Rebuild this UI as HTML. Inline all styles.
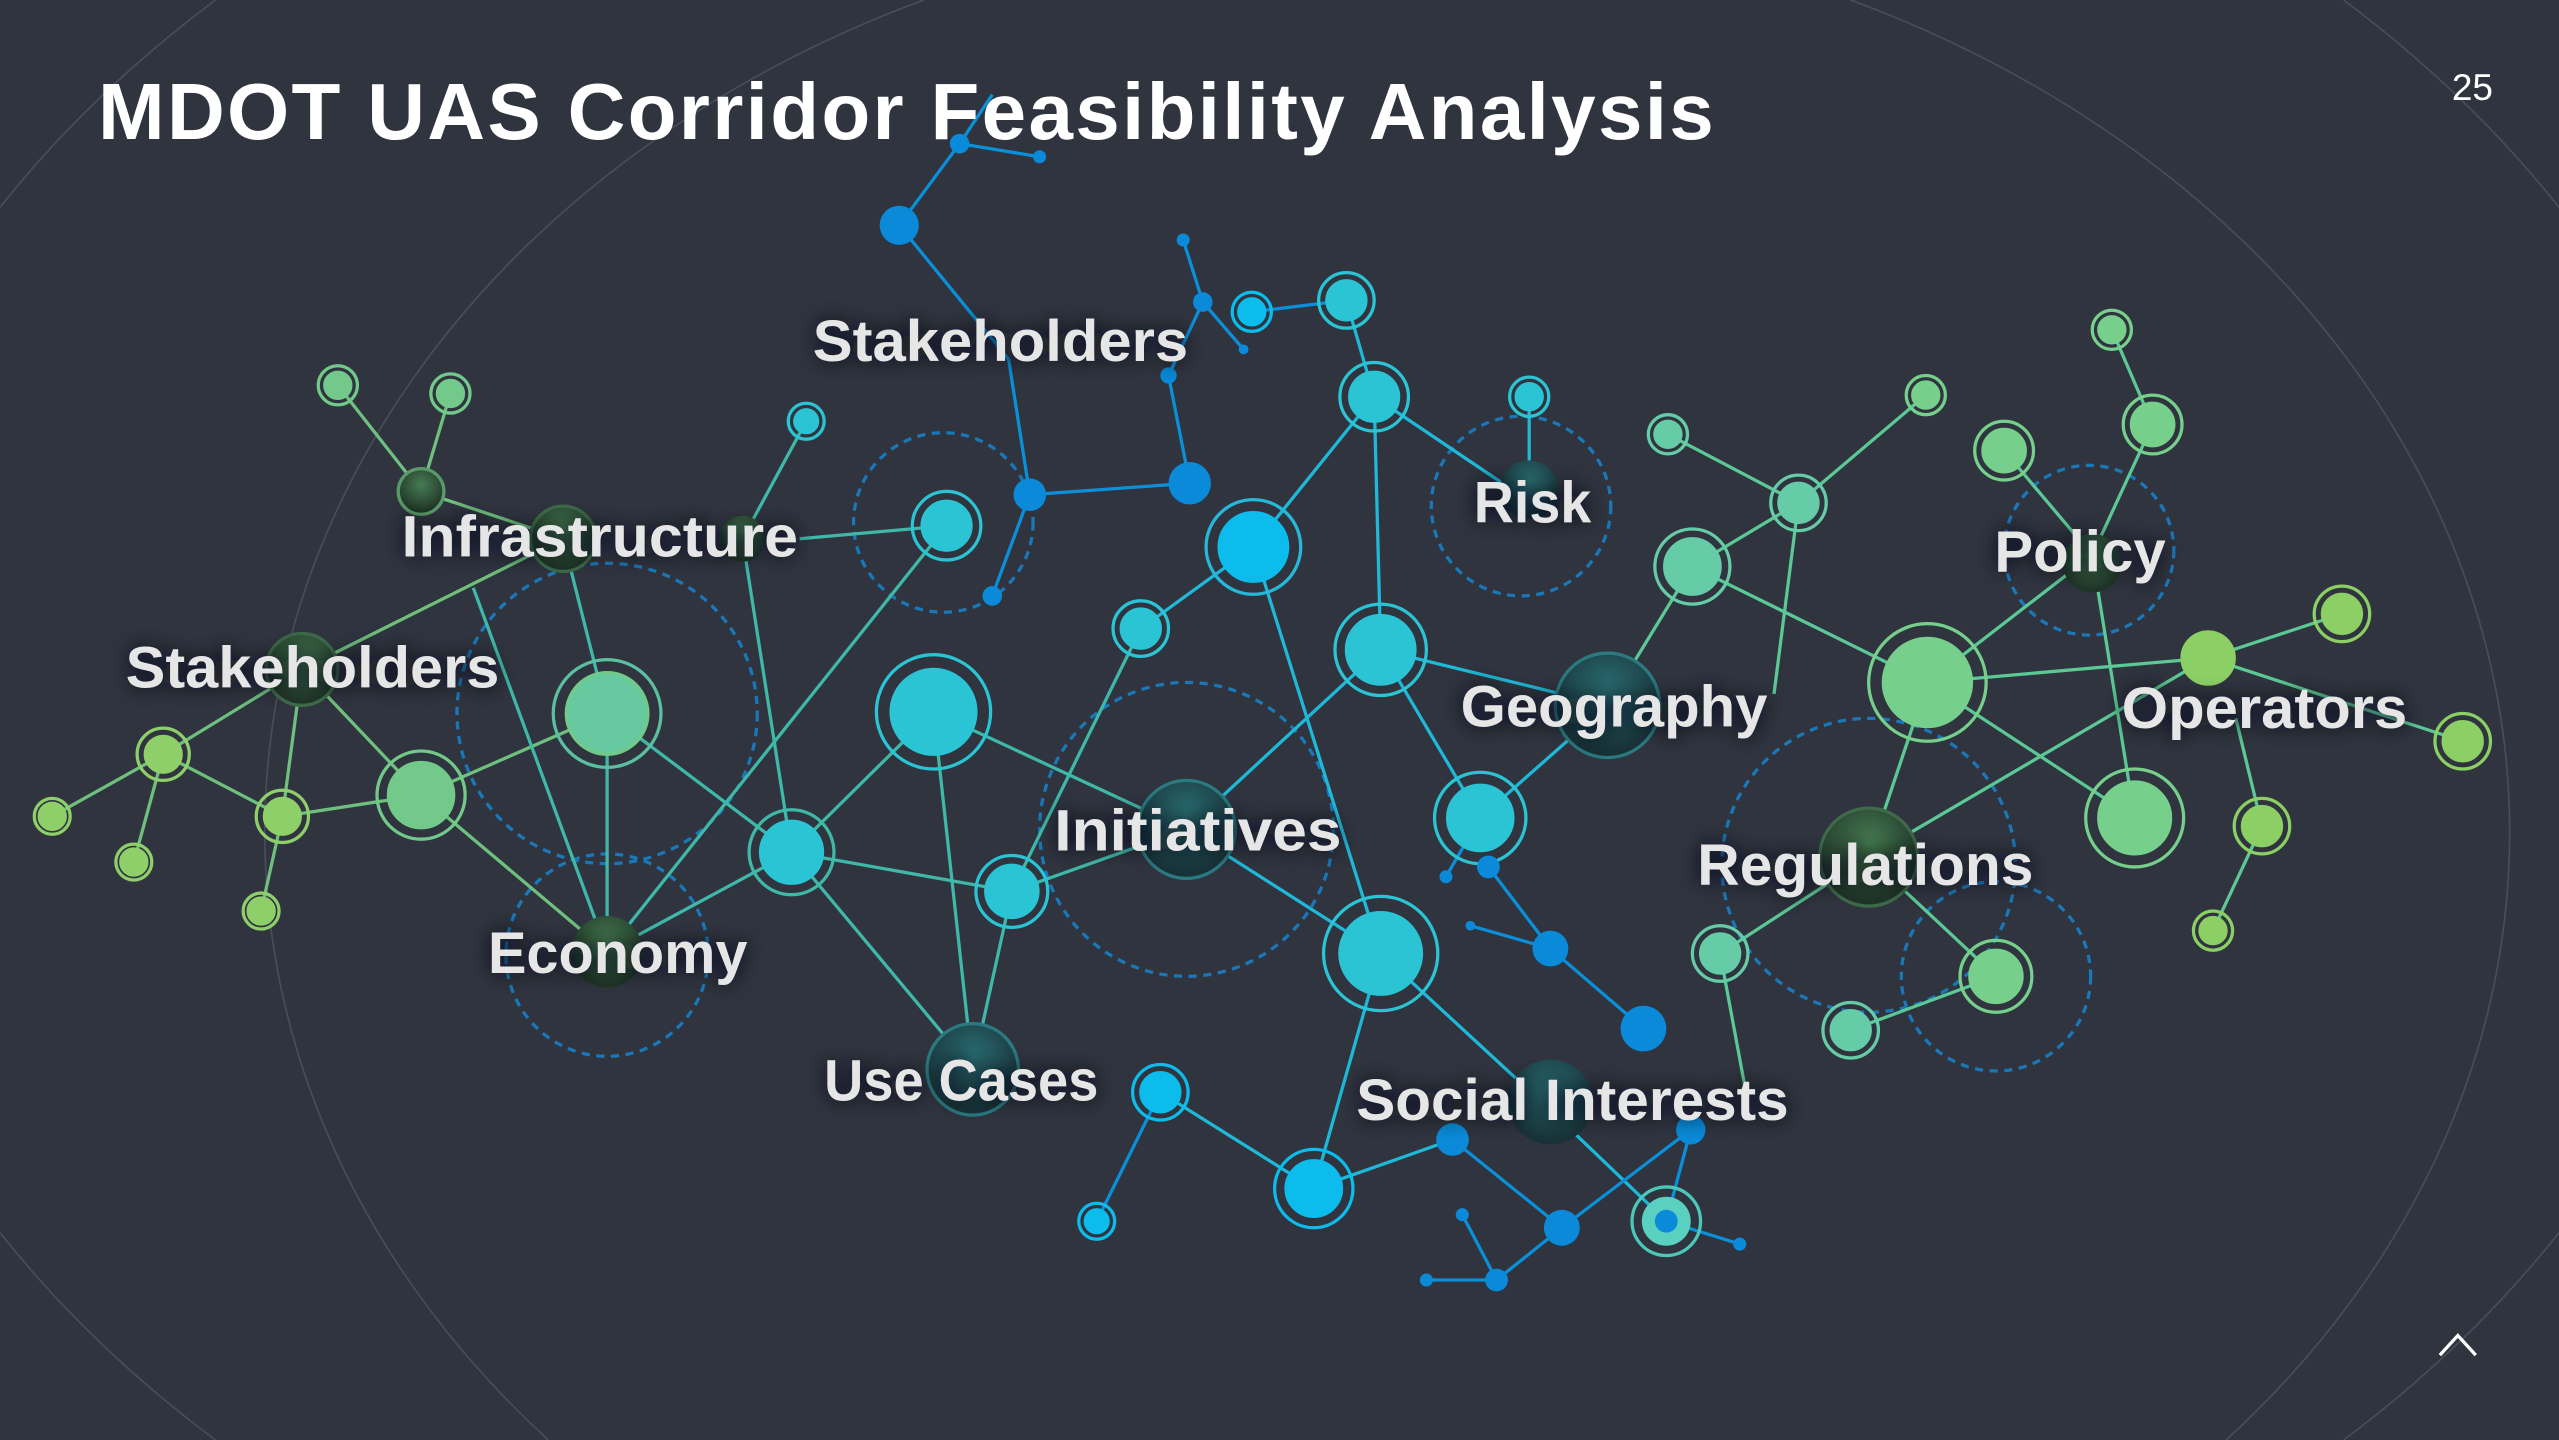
<!DOCTYPE html>
<html><head><meta charset="utf-8"><style>
html,body{margin:0;padding:0;background:#2f343f;width:2559px;height:1440px;overflow:hidden}
#wrap{position:relative;width:2559px;height:1440px;overflow:hidden;background:#2f343f}
svg{display:block;position:absolute;left:0;top:0}
.lb{font-family:"Liberation Sans","DejaVu Sans",sans-serif;font-weight:bold;font-size:36px;fill:#e6e6e6}
h1{position:absolute;left:98px;top:62px;margin:0;font-family:"Liberation Sans",sans-serif;font-weight:bold;font-size:80px;line-height:100px;color:#fff;white-space:nowrap;letter-spacing:2.3px}
.pg{position:absolute;right:66px;top:67px;font-family:"Liberation Sans",sans-serif;font-size:37px;color:#fff}
</style></head><body>
<div id="wrap">
<svg width="2559" height="1440" viewBox="0 0 1568 882" preserveAspectRatio="none" xmlns="http://www.w3.org/2000/svg">
<defs>
<filter id="sh" x="-20%" y="-40%" width="140%" height="180%"><feGaussianBlur stdDeviation="6"/></filter>
<radialGradient id="hub" cx="50%" cy="35%" r="60%"><stop offset="0" stop-color="#2a6e74"/><stop offset="1" stop-color="#183238"/></radialGradient>
<radialGradient id="hubg" cx="50%" cy="35%" r="60%"><stop offset="0" stop-color="#467c52"/><stop offset="1" stop-color="#203428"/></radialGradient>
</defs>
<g fill="none" stroke="#5a606b" stroke-width="1" opacity="0.6">
<path d="M566,0 A688,560 0 0,0 336,882"/>
<path d="M1134,0 A688,560 0 0,1 1364,882"/>
<path d="M132,0 A900,640 0 0,0 0,127"/>
<path d="M0,755 A900,640 0 0,0 132,882"/>
<path d="M1436,0 A900,640 0 0,1 1568,127"/>
<path d="M1568,755 A900,640 0 0,1 1436,882"/>
</g>
<g fill="none" stroke="#1a78b8" stroke-width="2" stroke-dasharray="5,4">
<circle cx="578" cy="320" r="55"/><circle cx="372" cy="437" r="92"/><circle cx="372" cy="585" r="62"/>
<circle cx="727" cy="508" r="90"/><circle cx="932" cy="310" r="55"/><circle cx="1280" cy="337" r="52"/>
<circle cx="1145" cy="530" r="90"/><circle cx="1223" cy="598" r="58"/>
</g>
<g stroke-width="2" fill="none">
<g stroke="#6fbf7e">
<line x1="207" y1="236" x2="258" y2="301"/><line x1="276" y1="241" x2="258" y2="301"/>
<line x1="258" y1="301" x2="345" y2="330"/><line x1="345" y1="330" x2="185" y2="410"/>
<line x1="185" y1="410" x2="100" y2="462"/><line x1="185" y1="410" x2="173" y2="500"/>
<line x1="185" y1="410" x2="258" y2="487"/><line x1="100" y1="462" x2="32" y2="500"/>
<line x1="100" y1="462" x2="82" y2="528"/><line x1="100" y1="462" x2="173" y2="500"/>
<line x1="173" y1="500" x2="160" y2="558"/><line x1="173" y1="500" x2="258" y2="487"/>
<line x1="258" y1="487" x2="372" y2="437"/><line x1="258" y1="487" x2="372" y2="583"/>
</g>
<g stroke="#3fb8a8">
<line x1="345" y1="330" x2="372" y2="437"/><line x1="290" y1="360" x2="372" y2="583"/>
<line x1="372" y1="437" x2="372" y2="583"/><line x1="372" y1="437" x2="485" y2="522"/>
<line x1="455" y1="330" x2="485" y2="522"/><line x1="455" y1="330" x2="494" y2="258"/>
<line x1="490" y1="330" x2="580" y2="322"/><line x1="580" y1="322" x2="372" y2="583"/>
<line x1="485" y1="522" x2="372" y2="583"/><line x1="485" y1="522" x2="572" y2="436"/>
<line x1="485" y1="522" x2="620" y2="546"/><line x1="485" y1="522" x2="596" y2="655"/>
<line x1="572" y1="436" x2="596" y2="655"/><line x1="572" y1="436" x2="727" y2="508"/>
<line x1="620" y1="546" x2="596" y2="655"/><line x1="620" y1="546" x2="727" y2="508"/>
<line x1="620" y1="546" x2="699" y2="385"/>
</g>
<g stroke="#20b8d8">
<line x1="699" y1="385" x2="768" y2="335"/><line x1="768" y1="335" x2="842" y2="243"/>
<line x1="768" y1="335" x2="846" y2="584"/><line x1="842" y1="243" x2="846" y2="398"/>
<line x1="842" y1="243" x2="825" y2="184"/><line x1="842" y1="243" x2="937" y2="307"/>
<line x1="846" y1="398" x2="727" y2="508"/><line x1="846" y1="398" x2="907" y2="501"/>
<line x1="846" y1="398" x2="985" y2="432"/><line x1="727" y1="508" x2="846" y2="584"/>
<line x1="907" y1="501" x2="985" y2="432"/><line x1="846" y1="584" x2="805" y2="728"/>
<line x1="846" y1="584" x2="950" y2="680"/><line x1="711" y1="669" x2="805" y2="728"/>
<line x1="805" y1="728" x2="890" y2="698"/><line x1="950" y1="680" x2="1021" y2="748"/>
<line x1="937" y1="243" x2="937" y2="290"/>
</g>
<g stroke="#0b8fd8">
<line x1="608" y1="58" x2="588" y2="88"/><line x1="588" y1="88" x2="637" y2="96"/>
<line x1="588" y1="88" x2="551" y2="138"/><line x1="551" y1="138" x2="618" y2="220"/>
<line x1="618" y1="220" x2="631" y2="303"/><line x1="631" y1="303" x2="608" y2="365"/>
<line x1="631" y1="303" x2="729" y2="296"/><line x1="729" y1="296" x2="716" y2="230"/>
<line x1="725" y1="147" x2="737" y2="185"/><line x1="737" y1="185" x2="762" y2="214"/>
<line x1="737" y1="185" x2="716" y2="230"/><line x1="767" y1="191" x2="825" y2="184"/>
<line x1="711" y1="669" x2="672" y2="748"/><line x1="907" y1="501" x2="886" y2="537"/>
<line x1="912" y1="531" x2="950" y2="581"/><line x1="901" y1="567" x2="950" y2="581"/>
<line x1="950" y1="581" x2="1007" y2="630"/><line x1="890" y1="698" x2="957" y2="752"/>
<line x1="957" y1="752" x2="917" y2="784"/><line x1="917" y1="784" x2="874" y2="784"/>
<line x1="917" y1="784" x2="896" y2="744"/><line x1="957" y1="752" x2="1036" y2="692"/>
<line x1="1021" y1="748" x2="1066" y2="762"/><line x1="1021" y1="748" x2="1036" y2="692"/>
</g>
<g stroke="#5cc896">
<line x1="985" y1="432" x2="1037" y2="347"/><line x1="1022" y1="266" x2="1102" y2="308"/>
<line x1="1102" y1="308" x2="1180" y2="242"/><line x1="1102" y1="308" x2="1037" y2="347"/>
<line x1="1102" y1="308" x2="1087" y2="425"/><line x1="1037" y1="347" x2="1181" y2="418"/>
<line x1="1181" y1="418" x2="1282" y2="340"/><line x1="1181" y1="418" x2="1353" y2="403"/>
<line x1="1181" y1="418" x2="1308" y2="501"/><line x1="1181" y1="418" x2="1145" y2="525"/>
<line x1="1228" y1="276" x2="1282" y2="340"/><line x1="1319" y1="260" x2="1282" y2="340"/>
<line x1="1294" y1="202" x2="1319" y2="260"/><line x1="1282" y1="340" x2="1308" y2="501"/>
<line x1="1353" y1="403" x2="1435" y2="376"/><line x1="1353" y1="403" x2="1509" y2="454"/>
<line x1="1353" y1="403" x2="1145" y2="525"/><line x1="1386" y1="506" x2="1370" y2="440"/>
<line x1="1386" y1="506" x2="1356" y2="570"/><line x1="1145" y1="525" x2="1054" y2="584"/>
<line x1="1145" y1="525" x2="1223" y2="598"/><line x1="1054" y1="584" x2="1070" y2="670"/>
<line x1="1134" y1="631" x2="1223" y2="598"/>
</g>
</g>
<g>
<circle cx="185" cy="410" r="22" fill="url(#hubg)" stroke="#3e6a4a" stroke-width="2"/>
<circle cx="345" cy="330" r="20" fill="url(#hubg)" stroke="#3e6a4a" stroke-width="2"/>
<circle cx="258" cy="301" r="14" fill="url(#hubg)" stroke="#5a9a6a" stroke-width="2"/>
<circle cx="455" cy="330" r="14" fill="url(#hubg)"/>
<circle cx="372" cy="583" r="22" fill="url(#hubg)"/>
<circle cx="596" cy="655" r="28" fill="url(#hub)" stroke="#2a7a80" stroke-width="2"/>
<circle cx="727" cy="508" r="30" fill="url(#hub)" stroke="#2a7a80" stroke-width="2"/>
<circle cx="985" cy="432" r="32" fill="url(#hub)" stroke="#2a7a80" stroke-width="2"/>
<circle cx="950" cy="675" r="26" fill="url(#hub)"/>
<circle cx="1145" cy="525" r="30" fill="url(#hubg)" stroke="#3e6a4a" stroke-width="2"/>
<circle cx="1282" cy="345" r="18" fill="url(#hubg)"/>
<circle cx="937" cy="300" r="18" fill="url(#hub)"/>
</g>
<g stroke-width="2">
<g fill="#72c98a" stroke="#72c98a">
<circle cx="207" cy="236" r="8"/><circle cx="207" cy="236" r="12" fill="none"/>
<circle cx="276" cy="241" r="8"/><circle cx="276" cy="241" r="12" fill="none"/>
<circle cx="372" cy="437" r="25" fill="#66c9a0"/><circle cx="372" cy="437" r="33" fill="none" stroke="#5cc0a0"/>
<circle cx="258" cy="487" r="20"/><circle cx="258" cy="487" r="27" fill="none"/>
</g>
<g fill="#8fcf6a" stroke="#8fcf6a">
<circle cx="173" cy="500" r="11"/><circle cx="173" cy="500" r="16" fill="none"/>
<circle cx="100" cy="462" r="11"/><circle cx="100" cy="462" r="16" fill="none"/>
<circle cx="32" cy="500" r="8"/><circle cx="32" cy="500" r="11" fill="none"/>
<circle cx="82" cy="528" r="8"/><circle cx="82" cy="528" r="11" fill="none"/>
<circle cx="160" cy="558" r="8"/><circle cx="160" cy="558" r="11" fill="none"/>
</g>
<g fill="#2ac4d4" stroke="#2ac4d4">
<circle cx="494" cy="258" r="7"/><circle cx="494" cy="258" r="11" fill="none"/>
<circle cx="580" cy="322" r="15"/><circle cx="580" cy="322" r="21" fill="none"/>
<circle cx="572" cy="436" r="26"/><circle cx="572" cy="436" r="35" fill="none"/>
<circle cx="485" cy="522" r="19"/><circle cx="485" cy="522" r="26" fill="none" stroke="#3fb8a8"/>
<circle cx="620" cy="546" r="16"/><circle cx="620" cy="546" r="22" fill="none"/>
<circle cx="699" cy="385" r="12"/><circle cx="699" cy="385" r="17" fill="none"/>
<circle cx="842" cy="243" r="15"/><circle cx="842" cy="243" r="21" fill="none"/>
<circle cx="846" cy="398" r="21"/><circle cx="846" cy="398" r="28" fill="none"/>
<circle cx="907" cy="501" r="20"/><circle cx="907" cy="501" r="28" fill="none"/>
<circle cx="846" cy="584" r="25"/><circle cx="846" cy="584" r="35" fill="none"/>
<circle cx="937" cy="243" r="8"/><circle cx="937" cy="243" r="12" fill="none"/>
<circle cx="825" cy="184" r="12"/><circle cx="825" cy="184" r="17" fill="none"/>
</g>
<g fill="#0bbcec" stroke="#0bbcec">
<circle cx="768" cy="335" r="21"/><circle cx="768" cy="335" r="29" fill="none" stroke="#26b8d8"/>
<circle cx="767" cy="191" r="8"/><circle cx="767" cy="191" r="12" fill="none"/>
<circle cx="711" cy="669" r="12"/><circle cx="711" cy="669" r="17" fill="none"/>
<circle cx="805" cy="728" r="17"/><circle cx="805" cy="728" r="24" fill="none"/>
<circle cx="672" cy="748" r="7"/><circle cx="672" cy="748" r="11" fill="none"/>
</g>
<g fill="#0a8ad8" stroke="none">
<circle cx="588" cy="88" r="6"/><circle cx="637" cy="96" r="4"/><circle cx="551" cy="138" r="12"/>
<circle cx="725" cy="147" r="4"/><circle cx="737" cy="185" r="6"/><circle cx="762" cy="214" r="3"/>
<circle cx="729" cy="296" r="13"/><circle cx="631" cy="303" r="10"/><circle cx="608" cy="365" r="6"/>
<circle cx="716" cy="230" r="5"/><circle cx="886" cy="537" r="4"/><circle cx="912" cy="531" r="7"/>
<circle cx="901" cy="567" r="3"/><circle cx="950" cy="581" r="11"/><circle cx="1007" cy="630" r="14"/>
<circle cx="890" cy="698" r="10"/><circle cx="957" cy="752" r="11"/><circle cx="917" cy="784" r="7"/>
<circle cx="874" cy="784" r="4"/><circle cx="896" cy="744" r="4"/><circle cx="1036" cy="692" r="9"/>
<circle cx="1066" cy="762" r="4"/>
</g>
<circle cx="1021" cy="748" r="15" fill="#5ad0c0" stroke="none"/><circle cx="1021" cy="748" r="21" fill="none" stroke="#4cc8b8" stroke-width="2"/>
<circle cx="1021" cy="748" r="7" fill="#0a8ad8"/>
<g fill="#66cca8" stroke="#66cca8">
<circle cx="1022" cy="266" r="8"/><circle cx="1022" cy="266" r="12" fill="none"/>
<circle cx="1102" cy="308" r="12"/><circle cx="1102" cy="308" r="17" fill="none"/>
<circle cx="1037" cy="347" r="17"/><circle cx="1037" cy="347" r="23" fill="none"/>
<circle cx="1054" cy="584" r="12"/><circle cx="1054" cy="584" r="17" fill="none"/>
<circle cx="1134" cy="631" r="12"/><circle cx="1134" cy="631" r="17" fill="none"/>
</g>
<g fill="#76d08c" stroke="#76d08c">
<circle cx="1180" cy="242" r="8"/><circle cx="1180" cy="242" r="12" fill="none"/>
<circle cx="1181" cy="418" r="27"/><circle cx="1181" cy="418" r="36" fill="none"/>
<circle cx="1228" cy="276" r="13"/><circle cx="1228" cy="276" r="18" fill="none"/>
<circle cx="1319" cy="260" r="13"/><circle cx="1319" cy="260" r="18" fill="none"/>
<circle cx="1294" cy="202" r="8"/><circle cx="1294" cy="202" r="12" fill="none"/>
<circle cx="1223" cy="598" r="16"/><circle cx="1223" cy="598" r="22" fill="none"/>
<circle cx="1308" cy="501" r="22"/><circle cx="1308" cy="501" r="30" fill="none"/>
</g>
<g fill="#8ccf64" stroke="#8ccf64">
<circle cx="1353" cy="403" r="16"/>
<circle cx="1435" cy="376" r="12"/><circle cx="1435" cy="376" r="17" fill="none"/>
<circle cx="1509" cy="454" r="12"/><circle cx="1509" cy="454" r="17" fill="none"/>
<circle cx="1386" cy="506" r="12"/><circle cx="1386" cy="506" r="17" fill="none"/>
<circle cx="1356" cy="570" r="8"/><circle cx="1356" cy="570" r="12" fill="none"/>
</g>
</g>
<g class="lb" style="fill:#0b0d12" filter="url(#sh)" opacity="0.95">
<text x="498" y="221" textLength="230" lengthAdjust="spacingAndGlyphs">Stakeholders</text>
<text x="246" y="341" textLength="243" lengthAdjust="spacingAndGlyphs">Infrastructure</text>
<text x="77" y="421" textLength="229" lengthAdjust="spacingAndGlyphs">Stakeholders</text>
<text x="903" y="320" textLength="72" lengthAdjust="spacingAndGlyphs">Risk</text>
<text x="1222" y="350" textLength="105" lengthAdjust="spacingAndGlyphs">Policy</text>
<text x="895" y="445" textLength="188" lengthAdjust="spacingAndGlyphs">Geography</text>
<text x="1300" y="446" textLength="175" lengthAdjust="spacingAndGlyphs">Operators</text>
<text x="646" y="521" textLength="176" lengthAdjust="spacingAndGlyphs">Initiatives</text>
<text x="1040" y="542" textLength="206" lengthAdjust="spacingAndGlyphs">Regulations</text>
<text x="299" y="596" textLength="159" lengthAdjust="spacingAndGlyphs">Economy</text>
<text x="505" y="674" textLength="168" lengthAdjust="spacingAndGlyphs">Use Cases</text>
<text x="831" y="686" textLength="265" lengthAdjust="spacingAndGlyphs">Social Interests</text>
</g>
<g class="lb">
<text x="498" y="221" textLength="230" lengthAdjust="spacingAndGlyphs">Stakeholders</text>
<text x="246" y="341" textLength="243" lengthAdjust="spacingAndGlyphs">Infrastructure</text>
<text x="77" y="421" textLength="229" lengthAdjust="spacingAndGlyphs">Stakeholders</text>
<text x="903" y="320" textLength="72" lengthAdjust="spacingAndGlyphs">Risk</text>
<text x="1222" y="350" textLength="105" lengthAdjust="spacingAndGlyphs">Policy</text>
<text x="895" y="445" textLength="188" lengthAdjust="spacingAndGlyphs">Geography</text>
<text x="1300" y="446" textLength="175" lengthAdjust="spacingAndGlyphs">Operators</text>
<text x="646" y="521" textLength="176" lengthAdjust="spacingAndGlyphs">Initiatives</text>
<text x="1040" y="542" textLength="206" lengthAdjust="spacingAndGlyphs">Regulations</text>
<text x="299" y="596" textLength="159" lengthAdjust="spacingAndGlyphs">Economy</text>
<text x="505" y="674" textLength="168" lengthAdjust="spacingAndGlyphs">Use Cases</text>
<text x="831" y="686" textLength="265" lengthAdjust="spacingAndGlyphs">Social Interests</text>
</g>
<polyline points="1495,830 1506,818 1517,830" fill="none" stroke="#ffffff" stroke-width="2"/>
</svg>
<h1>MDOT UAS Corridor Feasibility Analysis</h1>
<div class="pg">25</div>
</div>
</body></html>
